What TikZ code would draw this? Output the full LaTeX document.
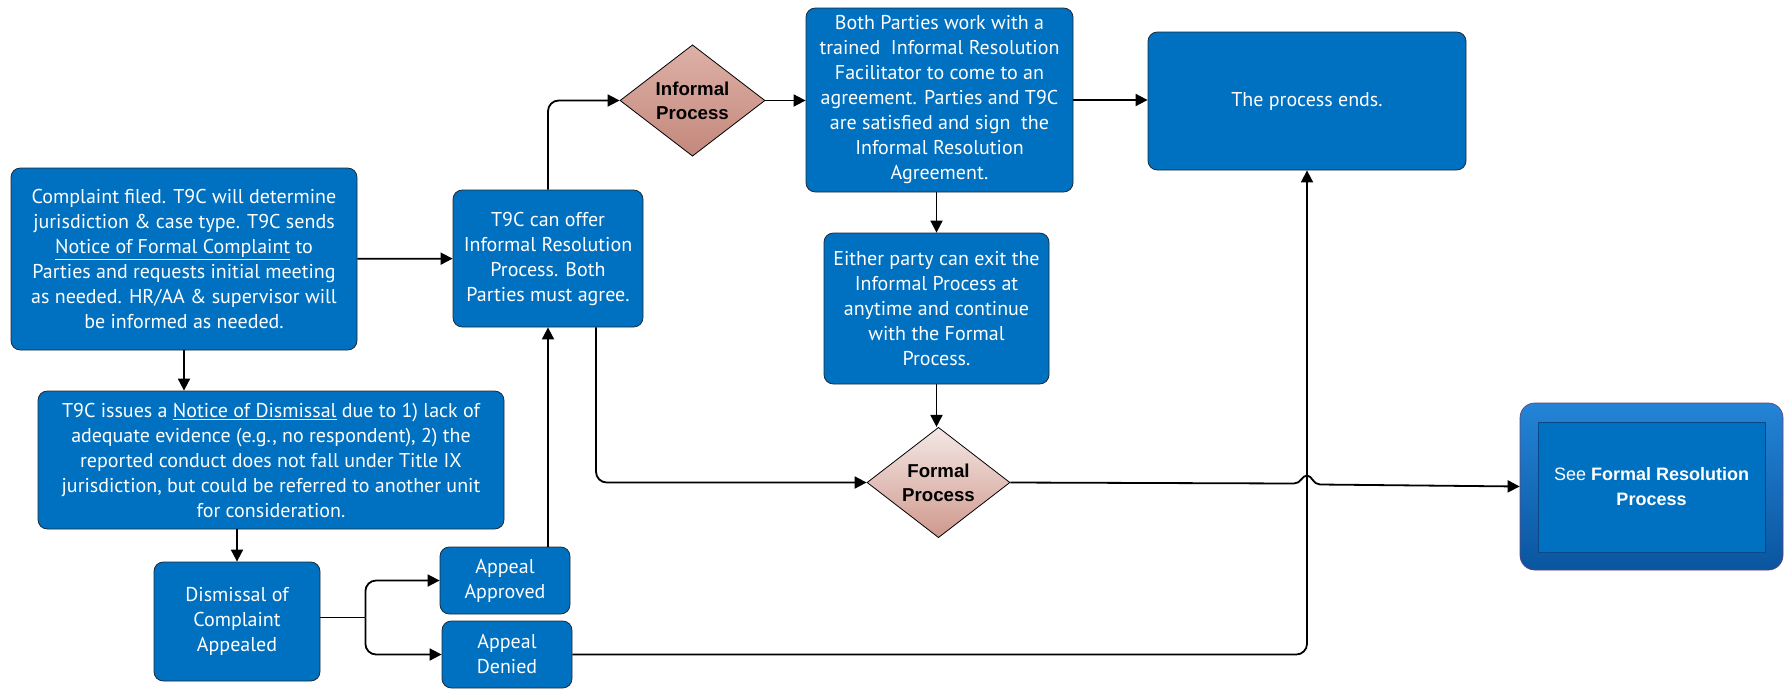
\documentclass[tikz,border=0pt]{standalone}
\usepackage{fontspec}
\setmainfont{PT Sans}
\newfontfamily\dfont{Liberation Sans}
\usepackage{tikz}
\usetikzlibrary{shapes,arrows,arrows.meta,calc}
\usepackage{xcolor}
\definecolor{boxblue}{HTML}{0070C0}
\definecolor{boxline}{HTML}{1C2B3A}
\definecolor{infotop}{HTML}{DDB0A6}
\definecolor{infobot}{HTML}{C4887C}
\definecolor{formtop}{HTML}{F4E8E6}
\definecolor{formbot}{HTML}{CF988C}
\definecolor{seetop}{HTML}{2484D6}
\definecolor{seebot}{HTML}{0A559F}

\begin{document}
\begin{tikzpicture}[x=0.75pt, y=-0.75pt]

\tikzstyle{box} = [rectangle, rounded corners=7pt, fill=boxblue, draw=boxline, line width=0.6pt,
  text=white, align=center, inner sep=2pt, font=\fontsize{15}{18.75}\selectfont]
\tikzstyle{decision} = [diamond, draw=black, line width=0.6pt, inner sep=0pt, align=center,
  font=\dfont\bfseries\fontsize{14}{18}\selectfont]
\tikzstyle{seebox} = [rectangle, rounded corners=11pt, top color=seetop, bottom color=seebot,
  draw=red!40!boxblue, line width=0.5pt, text=white, align=center,
  font=\dfont\fontsize{13.5}{19}\selectfont,
  path picture={\fill[sharp corners, boxblue, draw=seebot!85!black, line width=0.4pt]
    ($(path picture bounding box.north west)+(18,19)$) rectangle
    ($(path picture bounding box.south east)+(-18,-18)$);}]
\tikzstyle{line} = [line width=1.35pt, draw=black]
\tikzstyle{arr} = [line, -{Triangle[length=9pt,width=9pt]}]

\useasboundingbox (0,0) rectangle (1788,689);

% left column
\node[box, minimum width=259.5pt, minimum height=136.5pt] (cf) at (184,259)
  {Complaint filed. T9C will determine\\ jurisdiction \& case type. T9C sends\\
   \underline{Notice of Formal Complaint} to\\ Parties and requests initial meeting\\
   as needed. HR/AA \& supervisor will\\ be informed as needed.};
\node[box, minimum width=349.5pt, minimum height=103.5pt] (nd) at (271,460)
  {T9C issues a \underline{Notice of Dismissal} due to 1) lack of\\
   adequate evidence (e.g., no respondent), 2) the\\
   reported conduct does not fall under Title IX\\
   jurisdiction, but could be referred to another unit\\ for consideration.};
\node[box, minimum width=124.5pt, minimum height=89.25pt] (da) at (237,621.5)
  {Dismissal of\\ Complaint\\ Appealed};
\node[box, minimum width=97.5pt, minimum height=50.25pt] (aa) at (505,580.5)
  {Appeal\\ Approved};
\node[box, minimum width=97.5pt, minimum height=50.25pt] (ad) at (507,654.5)
  {Appeal\\ Denied};

% informal branch
\node[box, minimum width=142.5pt, minimum height=102.75pt] (io) at (548,258.5)
  {T9C can offer\\ Informal Resolution\\ Process. Both\\ Parties must agree.};
\node[decision, top color=infotop, bottom color=infobot,
  minimum width=108.75pt, minimum height=80.25pt] (ip) at (692.5,100.5)
  {Informal\\ Process};
\node[box, minimum width=200.25pt, minimum height=138pt] (bp) at (939.5,100)
  {Both Parties work with a\\ trained \ Informal Resolution\\ Facilitator to come to an\\
   agreement. Parties and T9C\\ are satisfied and sign \ the\\ Informal Resolution\\ Agreement.};
\node[box, minimum width=168.75pt, minimum height=113.25pt] (ep) at (936.5,308.5)
  {Either party can exit the\\ Informal Process at\\ anytime and continue\\
   with the Formal\\ Process.};
\node[decision, top color=formtop, bottom color=formbot,
  minimum width=107.25pt, minimum height=78.75pt] (fp) at (938.5,482.5)
  {Formal\\ Process};

% right side
\node[box, minimum width=238.5pt, minimum height=103.5pt] (pe) at (1307,101)
  {The process ends.};
\node[seebox, minimum width=197.25pt, minimum height=125.25pt] (fr) at (1651.5,486.5)
  {See \textbf{Formal Resolution}\\ \textbf{Process}};

\coordinate (br) at ($(da.east)+(45,-4)$);
\coordinate (j) at (pe.south |- fp.east);

\draw[arr] (cf) -- (io);
\draw[arr] (cf.south) -- (cf.south |- nd.north);
\draw[arr] (da.north |- nd.south) -- (da.north);
\draw[line] (da.east |- br) -- (br);
\draw[arr, rounded corners=8pt] (br) |- (aa.west);
\draw[arr, rounded corners=8pt] (br) |- (ad.west);
\draw[arr] (aa.north -| io.south) -- (io.south);
\draw[arr, rounded corners=8pt] (io.north) |- (ip.west);
\draw[arr] (ip.east) -- (ip.east -| bp.west);
\draw[arr] (bp.east) -- (bp.east -| pe.west);
\draw[arr] (ep.north |- bp.south) -- (ep.north);
\draw[arr] (ep.south) -- (ep.south |- fp.north);
\draw[arr, rounded corners=8pt] ([xshift=36pt]io.south) |- (fp.west);
\draw[arr, rounded corners=8pt] (ad.east) -| (pe.south);
\draw[arr] (fp.east) -- ($(j)+(-13,1)$)
  .. controls ($(j)+(-6,1)$) and ($(j)+(-5,-7)$) .. ($(j)+(0,-7)$)
  .. controls ($(j)+(5,-7)$) and ($(j)+(6,2)$) .. ($(j)+(13,2)$)
  -- (fr.west);
\end{tikzpicture}
\end{document}
